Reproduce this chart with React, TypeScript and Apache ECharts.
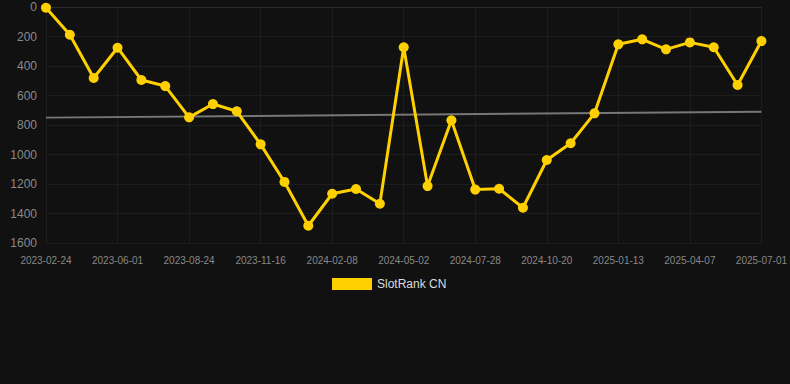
import React, { useEffect, useRef } from "react";
import * as echarts from "echarts";

const dates = [
  "2023-02-24", "2023-03-28", "2023-05-04", "2023-06-01", "2023-06-29", "2023-07-27",
  "2023-08-24", "2023-09-21", "2023-10-19", "2023-11-16", "2023-12-14", "2024-01-11",
  "2024-02-08", "2024-03-07", "2024-04-04", "2024-05-02", "2024-05-30", "2024-06-27",
  "2024-07-28", "2024-08-25", "2024-09-22", "2024-10-20", "2024-11-17", "2024-12-15",
  "2025-01-13", "2025-02-10", "2025-03-10", "2025-04-07", "2025-05-05", "2025-06-02",
  "2025-07-01",
];

const rankValues = [
  5, 188, 481, 276, 495, 536, 748, 658, 707, 931, 1186, 1483, 1266, 1234, 1334, 273,
  1214, 768, 1238, 1232, 1361, 1037, 924, 721, 253, 219, 287, 240, 273, 529, 231,
];

const trendStart = 750;
const trendEnd = 710;

const yTicks = { min: 0, max: 1600, interval: 200 };

export default function App() {
  const ref = useRef<HTMLDivElement>(null);
  useEffect(() => {
    if (!ref.current) return;
    const chart = echarts.init(ref.current, null, { renderer: "svg" });
    chart.setOption({
      animation: false,
      backgroundColor: "#111111",
      grid: { left: 46, right: 28, top: 7, bottom: 141, containLabel: false },
      legend: {
        data: ["SlotRank CN"],
        top: 273,
        left: 327,
        itemWidth: 40,
        itemHeight: 12,
        icon: "rect",
        textStyle: { color: "#dddddd", fontSize: 12, fontFamily: "Liberation Sans, Arial, sans-serif" },
      },
      xAxis: {
        type: "category",
        data: dates,
        boundaryGap: false,
        axisLine: { show: true, lineStyle: { color: "#2a2a2a", width: 1 } },
        axisTick: { show: false },
        axisLabel: {
          interval: 2,
          color: "#888888",
          fontSize: 10,
          margin: 12,
          fontFamily: "Liberation Sans, Arial, sans-serif",
        },
        splitLine: { show: true, interval: 2, lineStyle: { color: "#1d1d1d", width: 1 } },
      },
      yAxis: {
        type: "value",
        inverse: true,
        min: yTicks.min,
        max: yTicks.max,
        interval: yTicks.interval,
        axisLine: { show: false },
        axisTick: { show: false },
        axisLabel: {
          color: "#8a8a8a",
          fontSize: 12,
          margin: 9,
          formatter: (v: number) => String(v),
          fontFamily: "Liberation Sans, Arial, sans-serif",
        },
        splitLine: { show: true, lineStyle: { color: "#1d1d1d", width: 1 } },
      },
      series: [
        {
          name: "trend",
          type: "line",
          data: [
            [dates[0], trendStart],
            [dates[dates.length - 1], trendEnd],
          ],
          symbol: "none",
          lineStyle: { color: "#777777", width: 2 },
          silent: true,
          z: 1,
        },
        {
          name: "SlotRank CN",
          type: "line",
          data: rankValues,
          symbol: "circle",
          symbolSize: 10,
          itemStyle: { color: "#ffd000" },
          lineStyle: { color: "#ffd000", width: 3 },
          z: 2,
        },
      ],
    });
    return () => chart.dispose();
  }, []);
  return (
    <div
      ref={ref}
      style={{ position: "fixed", left: 0, top: 0, width: 790, height: 384 }}
    />
  );
}
